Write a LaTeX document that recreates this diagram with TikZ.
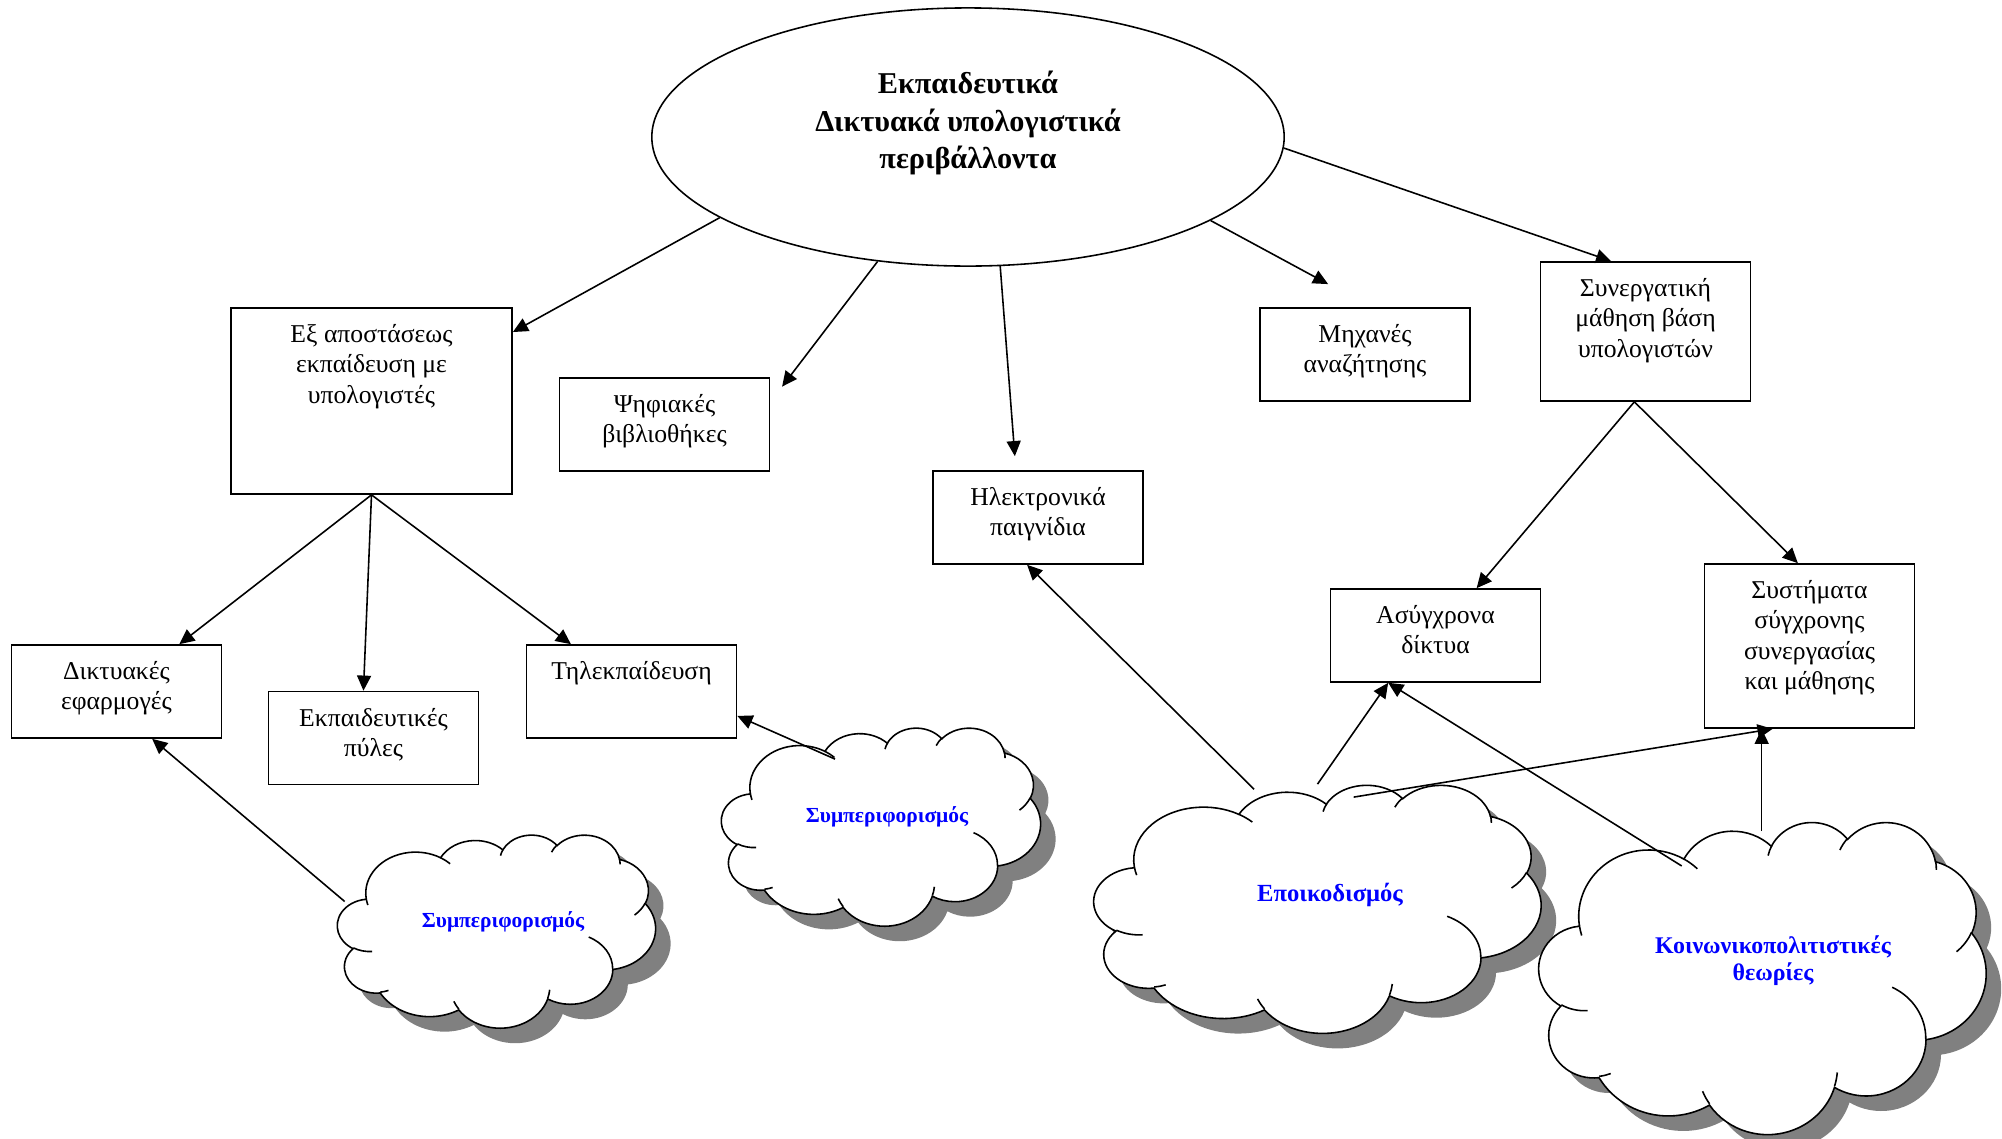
\documentclass[tikz,border=0pt]{standalone}
\usepackage{fontspec}
\setmainfont{Liberation Serif}
\usetikzlibrary{arrows.meta,shapes.geometric,positioning}

\newcommand\carc[4]{arc[x radius=#1,y radius=#2,start angle={atan2((#1)*sin(#3),(#2)*cos(#3))},delta angle={mod(atan2((#1)*sin((#3)+(#4)),(#2)*cos((#3)+(#4)))-atan2((#1)*sin(#3),(#2)*cos(#3))+720,360)}]}
\newcommand\cloudpath{(39,143.7)\carc{67.53}{91.90}{-190.4875}{123.7805}\carc{53.33}{72.67}{-144.1024}{89.9452}\carc{43.65}{59.45}{-145.8079}{99.7230}\carc{48.57}{65.95}{-130.9861}{117.2417}\carc{53.33}{72.73}{-78.7089}{109.0269}\carc{67.75}{92.20}{-46.2673}{130.2690}\carc{57.85}{78.67}{0.6250}{114.0333}\carc{67.52}{92.15}{22.4516}{115.1726}\carc{77.20}{105.43}{66.2426}{75.7110}\carc{43.60}{59.18}{-274.9421}{146.7356}\carc{43.45}{59.45}{-246.8285}{152.5189}--cycle}
\newcommand\cloudlines{(46.93,261.77)\carc{43.45}{59.45}{86.742}{26.4295}(69.28,348.99)\carc{43.60}{59.18}{73.6105}{11.4475}(164.78,390.90)\carc{67.52}{92.15}{137.6242}{14.0811}(288.27,347.51)\carc{67.52}{92.15}{6.4533}{15.9984}(341.29,229.54)\carc{57.85}{78.67}{-70.2924}{70.9174}(417.98,153.54)\carc{53.33}{72.73}{30.3180}{27.7515}(383.24,54.26)\carc{48.57}{65.95}{-13.7443}{14.8589}(290.78,39.52)\carc{48.57}{65.95}{-149.1815}{18.1954}(221.41,47.20)\carc{43.65}{59.45}{-163.4943}{17.6864}(140,51.92)\carc{67.53}{91.90}{-66.7070}{12.3194}(41.27,157.89)\carc{67.53}{91.90}{157.6544}{11.8582}}
\newcommand\wordcloud[3]{%
\begin{scope}[shift={(#1.center)},xshift=.15cm,yshift=-.15cm,xscale=#2/432,yscale=#3/432,shift={(-216,-216)}]
\fill[gray]\cloudpath;\end{scope}
\begin{scope}[shift={(#1.center)},xscale=#2/432,yscale=#3/432,shift={(-216,-216)}]
\filldraw[fill=white]\cloudpath;\draw\cloudlines;\end{scope}}

\begin{document}
\begin{tikzpicture}[x=.01cm,y=-.01cm,line width=.45pt,>={Triangle[length=4.3pt,width=4pt]},
box/.style={draw,minimum width=2.1cm,minimum height=.93cm,inner sep=0pt},
txt/.style={align=center,inner sep=0pt,font=\fontsize{7.3}{8.6}\selectfont},
title/.style={align=center,inner sep=0pt,font=\bfseries\fontsize{8.6}{10.6}\selectfont},
cloudarea/.style={ellipse,inner sep=0pt},
cloudtxt/.style={align=center,inner sep=0pt,text=blue,font=\bfseries\fontsize{6.1}{7}\selectfont}]
\useasboundingbox (0,0) rectangle (2002,1139);
\node[ellipse,draw,minimum width=6.32cm,minimum height=2.58cm,inner sep=0pt] (env) at (968,137) {};
\node[title] (env-t) at (968,123) {Εκπαιδευτικά\\Δικτυακά υπολογιστικά\\περιβάλλοντα};
\node[box,minimum width=2.81cm,minimum height=1.86cm] (dist) at (371.5,401) {};
\node[txt,below=.165cm of dist.north] (dist-t) {Εξ αποστάσεως\\εκπαίδευση με\\υπολογιστές};
\node[box] (psi) at (664.5,424.5) {};\node[txt,below=.165cm of psi.north] (psi-t) {Ψηφιακές\\βιβλιοθήκες};
\node[box] (ilek) at (1038,517.5) {};\node[txt,below=.165cm of ilek.north] (ilek-t) {Ηλεκτρονικά\\παιγνίδια};
\node[box] (mix) at (1365,354.5) {};\node[txt,below=.165cm of mix.north] (mix-t) {Μηχανές\\αναζήτησης};
\node[box,minimum height=1.39cm] (syn) at (1645.5,331.5) {};\node[txt,below=.165cm of syn.north] (syn-t) {Συνεργατική\\μάθηση βάση\\υπολογιστών};
\node[box] (dikt) at (116.5,691.5) {};\node[txt,below=.165cm of dikt.north] (dikt-t) {Δικτυακές\\εφαρμογές};
\node[box] (ekp) at (373.5,738) {};\node[txt,below=.165cm of ekp.north] (ekp-t) {Εκπαιδευτικές\\πύλες};
\node[box] (tilek) at (631.5,691.5) {};\node[txt,below=.165cm of tilek.north] (tilek-t) {Τηλεκπαίδευση};
\node[box] (asyg) at (1435.5,635.5) {};\node[txt,below=.165cm of asyg.north] (asyg-t) {Ασύγχρονα\\δίκτυα};
\node[box,minimum height=1.64cm] (syst) at (1809.5,646) {};\node[txt,below=.165cm of syst.north] (syst-t) {Συστήματα\\σύγχρονης\\συνεργασίας\\και μάθησης};
% clouds
\node[cloudarea,minimum width=3.17cm,minimum height=1.92cm] (beh1) at (496.5,931) {};
\node[cloudarea,minimum width=3.18cm,minimum height=1.97cm] (beh2) at (881,826.5) {};
\node[cloudarea,minimum width=4.45cm,minimum height=2.47cm] (cons) at (1317.5,908.5) {};
\node[cloudarea,minimum width=4.45cm,minimum height=3.11cm] (soc) at (1762.5,977.5) {};
\wordcloud{beh1}{318}{193}\wordcloud{beh2}{319}{198}\wordcloud{cons}{447}{248}\wordcloud{soc}{447}{312}
\node[cloudtxt] (beh1-t) at (503,922) {Συμπεριφορισμός};
\node[cloudtxt] (beh2-t) at (887,817) {Συμπεριφορισμός};
\node[cloudtxt,font=\bfseries\fontsize{7}{8}\selectfont] (cons-t) at (1330,895) {Εποικοδισμός};
\node[cloudtxt,font=\bfseries\fontsize{6.8}{7.7}\selectfont] (soc-t) at (1773,961) {Κοινωνικοπολιτιστικές\\θεωρίες};
% arrows
\draw[->](env.198.5)--(dist.26.5);\draw[->,shorten >=5.5pt](env.234.6)--(psi.12);
\draw[->,shorten >=4pt](env.284.9)--(ilek.115.3);\draw[->,shorten >=13.8pt](env.341.5)--(mix.83.3);
\draw[->](env.358.5)--(syn.116.4);
\draw[->](dist.south)--(dikt.37.5);\draw[->](dist.south)--(ekp.102.9);\draw[->](dist.south)--(tilek.142);
\draw[->](syn.261.4)--(asyg.49.7);\draw[->](syn.261.4)--(syst.98);
\draw[->](beh1.169)--(dikt.307.4);\draw[->,shorten <=-.42cm](beh2.135.4)--(tilek.347.4);
\draw[->](cons.118.9)--(ilek.257.9);\draw[->](cons.90.6)--(asyg.225);
\draw[->,shorten <=-.377cm](cons.58.1)--(syst.246);
\draw[->,shorten <=-.416cm](soc.131.7)--(asyg.225);
\draw[->,shorten <=-.1cm](syst.240.4 |- soc.north)--(syst.240.4);
\end{tikzpicture}
\end{document}
